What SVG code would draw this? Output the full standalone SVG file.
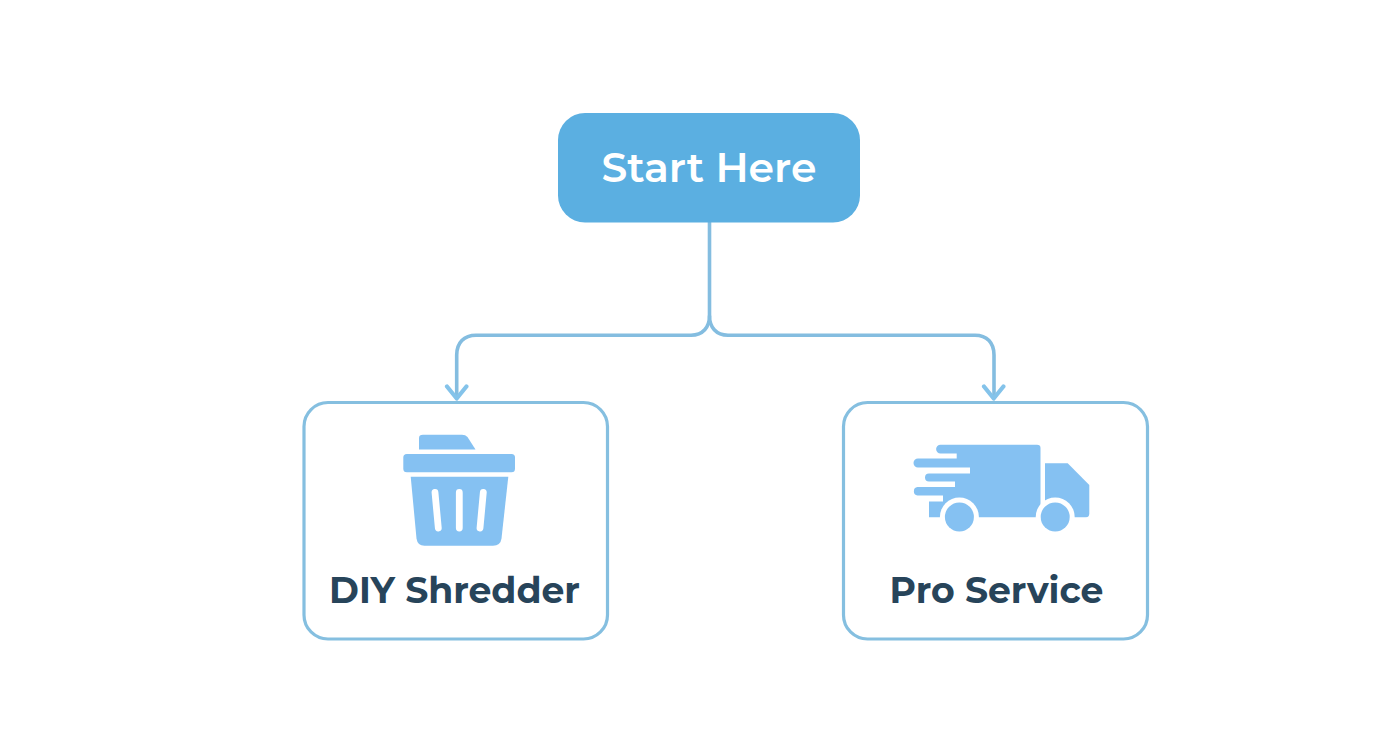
<svg xmlns="http://www.w3.org/2000/svg" width="1392" height="752" viewBox="0 0 1392 752">
<defs>
<style>
.conn{fill:none;stroke:#84bde0;stroke-width:3.6;stroke-linecap:round;stroke-linejoin:round}
.head{fill:none;stroke:#84c3ea;stroke-width:4.200;stroke-linecap:round;stroke-linejoin:round}
.box{fill:#fff;stroke:#85bfe0;stroke-width:3.200}
.ic{fill:#85c1f2}
.hole{fill:none;stroke:#fff;stroke-linecap:round}
.lbl{font-family:Montserrat,"Noto Sans","Open Sans",sans-serif;font-weight:700;font-size:36.200px;fill:#27445a;text-anchor:middle}
</style>
</defs>
<rect width="1392" height="752" fill="#fff"/>
<g id="connectors">
<path class="conn" d="M709.500 222V316C709.500 327 703 335.200 691 335.200H476C464 335.200 456.700 343 456.700 355V396"/>
<path class="conn" d="M709.500 316C709.500 327 716 335.200 728 335.200H975C987 335.200 994 343 994 355V396"/>
<path class="head" d="M447 386.500L456.700 398.500L466.400 386.500M984 386.500L993.700 398.500L1003.400 386.500"/>
</g>
<g id="start">
<rect x="558" y="113" width="302" height="109.500" rx="27" fill="#5bafe1"/>
<text x="709" y="181.500" text-anchor="middle" font-family="Montserrat,'Noto Sans','Open Sans',sans-serif" font-weight="600" font-size="41" fill="#fff">Start Here</text>
</g>
<g id="diy">
<rect class="box" x="304" y="402.500" width="303.500" height="236.500" rx="24"/>
<path class="ic" d="M419 449.500V438Q419 434.700 423 434.700H462Q465.500 434.700 467.500 437L475.500 449.500Z"/>
<rect class="ic" x="403.300" y="454" width="111.700" height="18.300" rx="3.500"/>
<path class="ic" d="M410.700 476.700H508.300L501.500 538.500Q500.500 545.700 493 545.700H424.500Q417.500 545.700 416.500 538.500Z"/>
<path class="hole" stroke-width="6.800" d="M435 492.500L438.300 528M459.300 492.500V528M483.300 492.500L480 528"/>
<text class="lbl" x="454.500" y="602.500">DIY Shredder</text>
</g>
<g id="pro">
<rect class="box" x="843.500" y="402.500" width="304" height="236.500" rx="24"/>
<path class="ic" d="M940.500 444.700H1037Q1040.500 444.700 1040.500 448V517.500H929V501.500H943V495.500H917.500A4.300 4.300 0 0 1 917.500 487H955V481.500H929A4 4 0 0 1 929 473.500H970V467.500H918A4.500 4.500 0 0 1 918 458.500H956.700V453.500H940.500A4.400 4.400 0 0 1 940.500 444.700Z"/>
<path class="ic" d="M1045 463.300H1067.700L1089.300 485V513.500Q1089.300 517.500 1085.300 517.500H1045Z"/>
<circle cx="959.400" cy="517" r="19.500" fill="#fff"/>
<circle cx="1055.200" cy="517" r="19.500" fill="#fff"/>
<rect x="929" y="517.500" width="161" height="20" fill="#fff"/>
<circle class="ic" cx="959.400" cy="517" r="14.500"/>
<circle class="ic" cx="1055.200" cy="517" r="14.500"/>
<text class="lbl" x="996.500" y="602.500">Pro Service</text>
</g>
</svg>
